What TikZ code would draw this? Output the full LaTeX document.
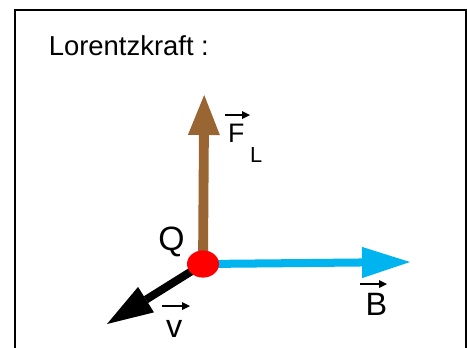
\documentclass[tikz,border=0pt]{standalone}
\usepackage{fontspec}
\setmainfont{Liberation Sans}
\definecolor{lfbrown}{RGB}{153,102,51}
\definecolor{lfcyan}{RGB}{0,180,240}
\definecolor{lfred}{RGB}{255,0,0}
\usetikzlibrary{arrows.meta,positioning,shapes.geometric}

\begin{document}
\begin{tikzpicture}[
    Farrow/.style={draw=lfbrown,line width=7pt,-{Triangle[length=1.0cm,width=0.8cm,line width=0pt]}},
    Barrow/.style={draw=lfcyan,line width=5.7pt,-{Triangle[length=1.2cm,width=0.78cm,line width=0pt]}},
    varrow/.style={draw=black,line width=5.7pt,-{Triangle[length=1.15cm,width=0.75cm,line width=0pt]}},
    vecarrow/.style={line width=2pt,-{Triangle[length=0.2cm,width=0.2cm,line width=0pt]}},
    lbl/.style={inner sep=0pt,anchor=base west}]

  \useasboundingbox (-5.075,-2.075) rectangle (6.6,6.6);

  %% frame (open at the bottom)
  \draw[line width=1.8pt] (-4.7,-2.2) |- (6.575,6.35) -- (6.575,-2.2);
  \node[lbl,font=\fontsize{19.5}{23}\selectfont] (title) at (-3.86,5.225) {Lorentzkraft :};

  %% vectors from the charge
  \coordinate (Qc) at (0,0);
  \coordinate (Ftip) at (0.03,4.225);
  \coordinate (Btip) at (5.175,0.05);
  \coordinate (vtip) at (-2.4,-1.5);
  \draw[Farrow] (Qc) -- (Ftip);
  \draw[Barrow] (Qc) -- (Btip);
  \draw[varrow] (Qc) -- (vtip);
  \node[ellipse,fill=lfred,minimum width=0.8cm,minimum height=0.68cm,inner sep=0pt] (Q) at (Qc) {};

  %% labels
  \node[lbl,font=\fontsize{24}{28}\selectfont] (lblQ) at (-1.12,0.35) {Q};
  \node[lbl,font=\fontsize{19}{22}\selectfont] (lblF) at (0.62,3.05) {F};
  \node[lbl,font=\fontsize{15.5}{18}\selectfont] (lblL) at (1.17,2.55) {L};
  \node[lbl,font=\fontsize{23}{27}\selectfont] (lblB) at (4.06,-1.275) {B};
  \node[lbl,font=\fontsize{23}{27}\selectfont] (lblv) at (-0.93,-1.825) {v};
  \draw[vecarrow] ([shift={(-0.07,0.675)}]lblF.base west) -- ++(0.625,0);
  \draw[vecarrow] ([shift={(-0.135,0.775)}]lblB.base west) -- ++(0.675,0);
  \draw[vecarrow] ([shift={(-0.095,0.775)}]lblv.base west) -- ++(0.7,0);
\end{tikzpicture}
\end{document}
